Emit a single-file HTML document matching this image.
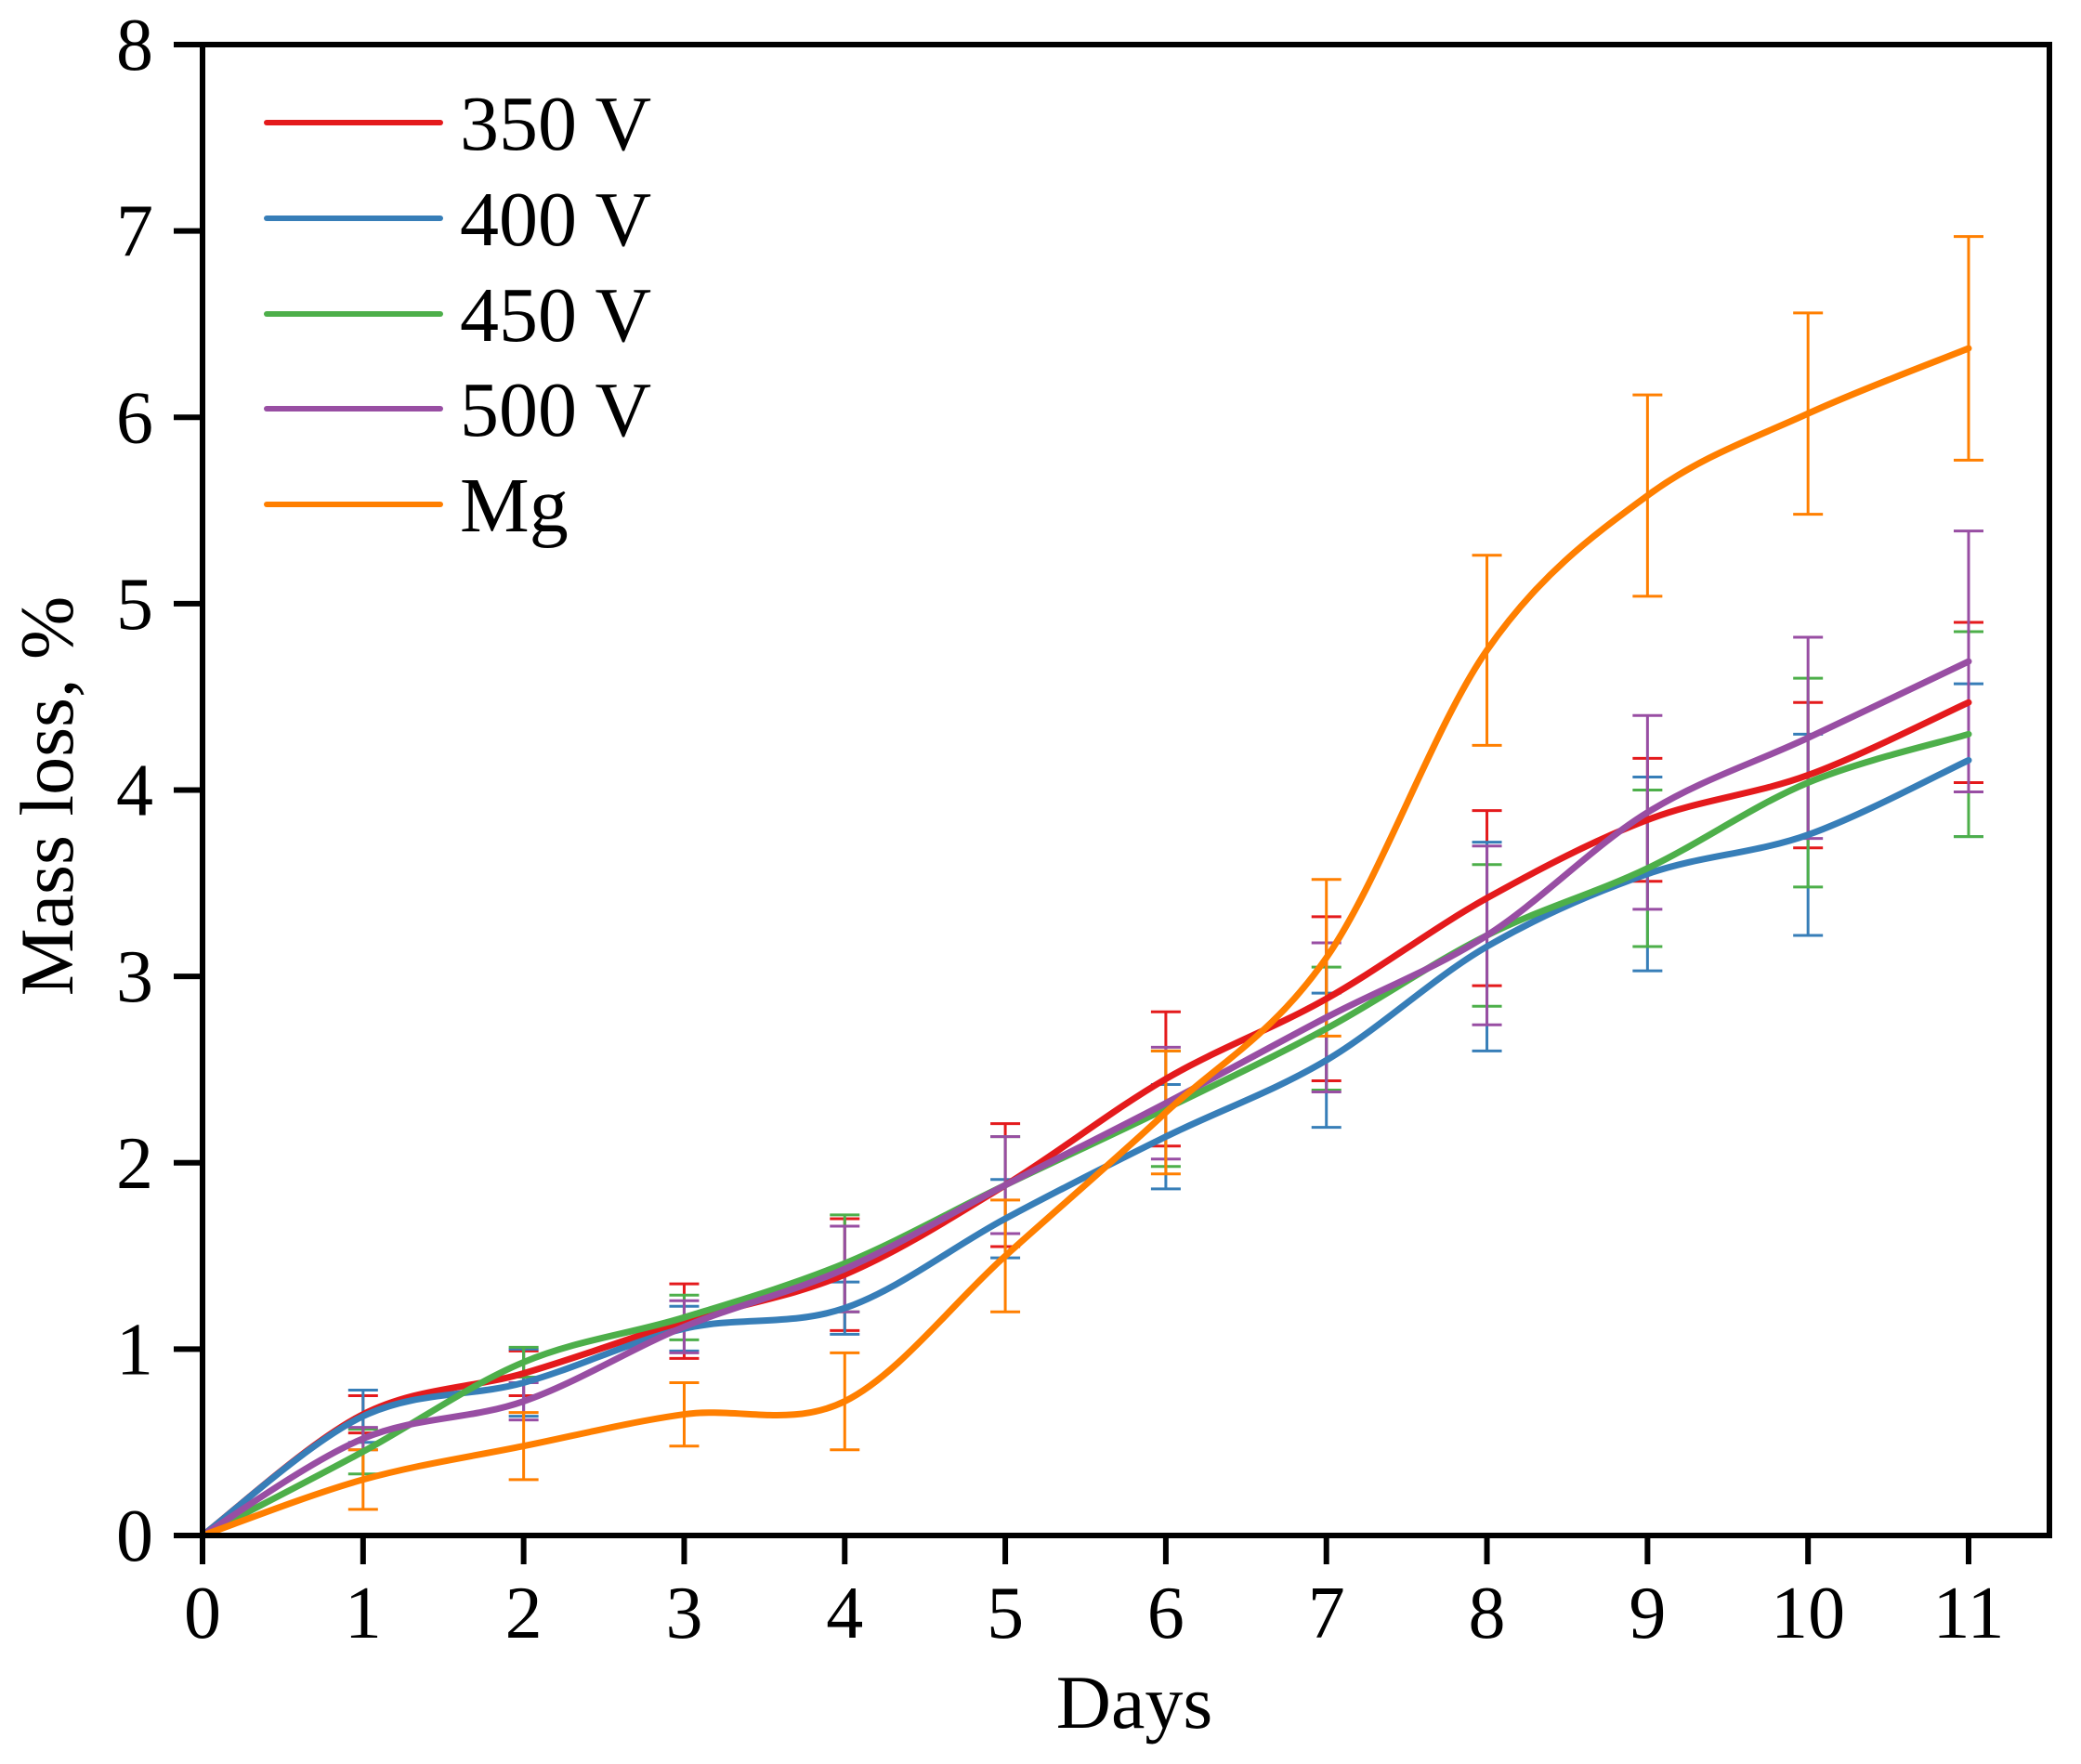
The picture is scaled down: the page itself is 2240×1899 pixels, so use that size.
<!DOCTYPE html>
<html><head><meta charset="utf-8">
<style>
html,body{margin:0;padding:0;background:#fff;}
svg{display:block;}
text{font-family:"Liberation Serif","Times New Roman",serif;fill:#000;}
</style></head>
<body>
<svg id="chart" width="2240" height="1899" viewBox="0 0 2240 1899" xmlns="http://www.w3.org/2000/svg">
<rect x="0" y="0" width="2240" height="1899" fill="#fff"/>
<g id="errs"></g>
<g id="lines"></g>
<g id="axes"></g>
<g id="legend"></g>
</svg>
<script>
const days = [0,1,2,3,4,5,6,7,8,9,10,11];
const xTicks = ["0","1","2","3","4","5","6","7","8","9","10","11"];
const yTicks = ["0","1","2","3","4","5","6","7","8"];
const seriesNames = ["350 V","400 V","450 V","500 V","Mg"];
const v350 = [0,0.65,0.87,1.15,1.40,1.88,2.45,2.88,3.42,3.84,4.08,4.47];
const v400 = [0,0.64,0.82,1.11,1.22,1.70,2.14,2.55,3.16,3.55,3.76,4.16];
const v450 = [0,0.45,0.93,1.17,1.46,1.88,2.29,2.72,3.22,3.58,4.04,4.30];
const v500 = [0,0.52,0.72,1.12,1.43,1.88,2.32,2.78,3.22,3.88,4.28,4.69];
const vMg  = [0,0.30,0.48,0.65,0.72,1.50,2.27,3.10,4.75,5.58,6.02,6.37];
const e350 = [0,0.10,0.12,0.20,0.30,0.33,0.36,0.44,0.47,0.33,0.39,0.43];
const e400 = [0,0.14,0.18,0.12,0.14,0.21,0.28,0.36,0.56,0.52,0.54,0.41];
const e450 = [0,0.12,0.08,0.12,0.26,0.26,0.31,0.33,0.38,0.42,0.56,0.55];
const e500 = [0,0.06,0.10,0.14,0.23,0.26,0.30,0.40,0.48,0.52,0.54,0.70];
const eMg  = [0,0.16,0.18,0.17,0.26,0.30,0.33,0.42,0.51,0.54,0.54,0.60];

const colors = ["#e41a1c","#377eb8","#4daf4a","#984ea3","#ff7f00"];
const vals = [v350,v400,v450,v500,vMg];
const errs = [e350,e400,e450,e500,eMg];
const slug = ["350v","400v","450v","500v","mg"];

const X0=218, X11=2119, Y0=1653, Y8=48;
function sx(d){return X0+(X11-X0)*d/11;}
function sy(v){return Y0+(Y8-Y0)*v/8;}
const NS="http://www.w3.org/2000/svg";
function mk(tag,attrs,parent){const e=document.createElementNS(NS,tag);for(const k in attrs)e.setAttribute(k,attrs[k]);parent.appendChild(e);return e;}

const gE=document.getElementById('errs'), gL=document.getElementById('lines'), gA=document.getElementById('axes'), gG=document.getElementById('legend');

vals.forEach((vs,si)=>{
  vs.forEach((v,i)=>{
    if(i===0) return;
    const e=errs[si][i], x=sx(days[i]), yt=sy(v+e), yb=sy(v-e);
    const p=mk('path',{d:`M${x},${yt}V${yb}M${x-16},${yt}H${x+16}M${x-16},${yb}H${x+16}`,stroke:colors[si],'stroke-width':3,fill:'none'},gE);
    
    
  });
});

function smooth(pts){
  let d=`M${pts[0][0]},${pts[0][1]}`;
  for(let i=0;i<pts.length-1;i++){
    const p0=pts[Math.max(0,i-1)],p1=pts[i],p2=pts[i+1],p3=pts[Math.min(pts.length-1,i+2)];
    const c1x=p1[0]+(p2[0]-p0[0])/6,c1y=p1[1]+(p2[1]-p0[1])/6;
    const c2x=p2[0]-(p3[0]-p1[0])/6,c2y=p2[1]-(p3[1]-p1[1])/6;
    d+=`C${c1x},${c1y} ${c2x},${c2y} ${p2[0]},${p2[1]}`;
  }
  return d;
}
vals.forEach((vs,si)=>{
  const pts=vs.map((v,i)=>[sx(days[i]),sy(v)]);
  const p=mk('path',{d:smooth(pts),stroke:colors[si],'stroke-width':7,fill:'none','stroke-linejoin':'round','stroke-linecap':'round'},gL);
  
  
});

const frame=mk('rect',{x:X0,y:Y8,width:2206-X0,height:Y0-Y8,fill:'none',stroke:'#000','stroke-width':6},gA);


xTicks.forEach((t,i)=>{
  const x=sx(i);
  const l=mk('line',{x1:x,y1:Y0,x2:x,y2:Y0+31,stroke:'#000','stroke-width':6},gA);
  
  
  const tx=mk('text',{x:x,y:1763,'font-size':80,'text-anchor':'middle'},gA);
  tx.textContent=t;
  
  
});
yTicks.forEach((t,i)=>{
  const y=sy(i);
  const l=mk('line',{x1:X0-31,y1:y,x2:X0,y2:y,stroke:'#000','stroke-width':6},gA);
  
  
  const tx=mk('text',{x:165,y:y+27,'font-size':80,'text-anchor':'end'},gA);
  tx.textContent=t;
  
  
});
const xt=mk('text',{x:1221,y:1860,'font-size':82,'text-anchor':'middle'},gA);
xt.textContent='Days';


const yt=mk('text',{x:0,y:0,'font-size':82,'text-anchor':'middle',transform:'translate(78,857) rotate(-90)'},gA);
yt.textContent='Mass loss, %';



const legY=[132,235,338,440,543];
seriesNames.forEach((n,i)=>{
  const g=mk('g',{},gG);
  
  
  mk('line',{x1:287,y1:legY[i],x2:474,y2:legY[i],stroke:colors[i],'stroke-width':6,'stroke-linecap':'round'},g);
  const t=mk('text',{x:495,y:legY[i]+29,'font-size':84},g);
  t.textContent=n;
});
</script>
</body></html>
